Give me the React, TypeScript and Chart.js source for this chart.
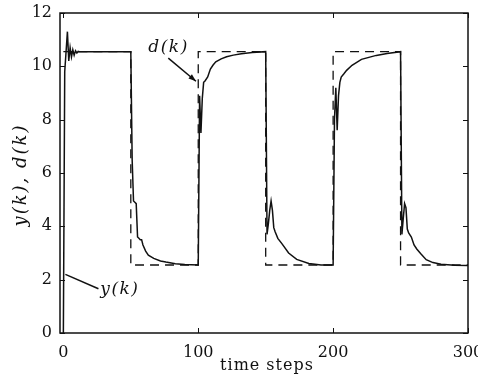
import React, { useEffect, useRef } from 'react';
import { Chart, registerables } from 'chart.js';

Chart.register(...registerables);

// axis ticks
const xTickValues = [0, 100, 200, 300];
const yTickValues = [0, 2, 4, 6, 8, 10, 12];

// desired output d(k): switch points and levels
const dK = [0, 50, 100, 150, 200, 250, 300];
const dV = [10.55, 2.55, 10.55, 2.55, 10.55, 2.55, 2.55];

// plant output y(k)
const yK = [
  0, 1, 3, 4, 5, 6, 7, 8, 9, 10, 11, 12, 50,
  51, 52, 53, 54, 55, 56, 57, 58, 59, 61, 63, 67, 72, 76, 83, 90, 100,
  101, 102, 103, 104, 105, 107, 109, 111, 113, 117, 121, 126, 132, 140, 150,
  151, 152, 153, 154, 155, 156, 157, 159, 162, 167, 173, 182, 191, 200,
  201, 202, 203, 204, 205, 206, 208, 210, 214, 221, 232, 240, 250,
  251, 252, 253, 254, 255, 256, 258, 260, 262, 265, 269, 274, 280, 290, 300,
];
const yV = [
  0, 9.8, 11.3, 10.2, 10.7, 10.35, 10.62, 10.42, 10.58, 10.5, 10.56, 10.55, 10.55,
  6.5, 4.95, 4.9, 4.85, 3.6, 3.55, 3.5, 3.5, 3.3, 3.07, 2.92, 2.8, 2.7, 2.66, 2.6, 2.57, 2.55,
  8.9, 7.5, 8.8, 9.4, 9.45, 9.6, 9.9, 10.05, 10.17, 10.28, 10.36, 10.42, 10.47, 10.52, 10.55,
  3.7, 4.1, 4.6, 4.95, 4.6, 3.95, 3.8, 3.55, 3.35, 3.0, 2.76, 2.61, 2.55, 2.55,
  8.0, 9.2, 7.6, 8.9, 9.4, 9.6, 9.72, 9.85, 10.04, 10.26, 10.41, 10.48, 10.55,
  3.7, 4.3, 4.85, 4.7, 3.9, 3.75, 3.6, 3.3, 3.15, 2.97, 2.75, 2.64, 2.58, 2.54, 2.53,
];

const xTitle = 'time steps';
const yTitle = 'y(k), d(k)';
const dLabel = 'd(k)';
const yLabel = 'y(k)';

export default function App() {
  const ref = useRef<HTMLCanvasElement>(null);

  useEffect(() => {
    document.body.style.margin = '0';
    const serif = '"DejaVu Serif", serif';
    const ink = '#111';

    const framePlugin = {
      id: 'frame',
      afterDraw(chart: any) {
        const ctx = chart.ctx as CanvasRenderingContext2D;
        const { left, right, top, bottom } = chart.chartArea;
        const xs = chart.scales.x;
        const ys = chart.scales.y;
        ctx.save();
        ctx.strokeStyle = ink;
        ctx.fillStyle = ink;
        ctx.lineWidth = 1.5;
        ctx.strokeRect(left, top, right - left, bottom - top);
        ctx.lineWidth = 1;
        const tl = 5;
        ctx.beginPath();
        xTickValues.forEach((v) => {
          const px = Math.round(xs.getPixelForValue(v)) + 0.5;
          ctx.moveTo(px, bottom);
          ctx.lineTo(px, bottom - tl);
          ctx.moveTo(px, top);
          ctx.lineTo(px, top + tl);
        });
        yTickValues.forEach((v) => {
          const py = Math.round(ys.getPixelForValue(v)) + 0.5;
          ctx.moveTo(left, py);
          ctx.lineTo(left + tl, py);
          ctx.moveTo(right, py);
          ctx.lineTo(right - tl, py);
        });
        ctx.stroke();

        // annotations
        (ctx as any).letterSpacing = '1.5px';
        ctx.font = `italic 17px ${serif}`;
        ctx.textBaseline = 'middle';
        ctx.textAlign = 'left';
        // d(k)
        const dTextX = xs.getPixelForValue(63);
        const dTextY = ys.getPixelForValue(10.72);
        ctx.fillText(dLabel, dTextX, dTextY);
        const a0x = xs.getPixelForValue(77.8);
        const a0y = ys.getPixelForValue(10.31);
        const a1x = xs.getPixelForValue(98.3);
        const a1y = ys.getPixelForValue(9.44);
        ctx.lineWidth = 1.5;
        ctx.beginPath();
        ctx.moveTo(a0x, a0y);
        ctx.lineTo(a1x, a1y);
        ctx.stroke();
        const ang = Math.atan2(a1y - a0y, a1x - a0x);
        const hl = 8;
        ctx.beginPath();
        ctx.moveTo(a1x, a1y);
        ctx.lineTo(a1x - hl * Math.cos(ang - 0.35), a1y - hl * Math.sin(ang - 0.35));
        ctx.lineTo(a1x - hl * Math.cos(ang + 0.35), a1y - hl * Math.sin(ang + 0.35));
        ctx.closePath();
        ctx.fill();
        // y(k)
        const b0x = xs.getPixelForValue(1.5);
        const b0y = ys.getPixelForValue(2.2);
        const b1x = xs.getPixelForValue(26);
        const b1y = ys.getPixelForValue(1.66);
        ctx.beginPath();
        ctx.moveTo(b0x, b0y);
        ctx.lineTo(b1x, b1y);
        ctx.stroke();
        ctx.fillText(yLabel, xs.getPixelForValue(27.4), ys.getPixelForValue(1.62));

        // axis titles
        (ctx as any).letterSpacing = '1px';
        ctx.font = `16px ${serif}`;
        ctx.textAlign = 'center';
        ctx.fillText(xTitle, (left + right) / 2 + 3, chart.height - 12);
        ctx.save();
        (ctx as any).letterSpacing = '2px';
        ctx.font = `italic 18px ${serif}`;
        ctx.translate(21, (top + bottom) / 2 + 2);
        ctx.rotate(-Math.PI / 2);
        ctx.fillText(yTitle, 0, 0);
        ctx.restore();
        ctx.restore();
      },
    };

    const chart = new Chart(ref.current as HTMLCanvasElement, {
      type: 'line',
      data: {
        datasets: [
          {
            label: 'd(k)',
            data: dK.map((k, i) => ({ x: k, y: dV[i] })),
            borderColor: ink,
            borderWidth: 1.3,
            borderDash: [9, 6],
            stepped: true,
            pointRadius: 0,
            fill: false,
          },
          {
            label: 'y(k)',
            data: yK.map((k, i) => ({ x: k, y: yV[i] })),
            borderColor: ink,
            borderWidth: 1.5,
            tension: 0,
            pointRadius: 0,
            fill: false,
          },
        ],
      },
      options: {
        animation: false,
        responsive: false,
        devicePixelRatio: 1,
        layout: { padding: { left: 0, right: 10, top: 13, bottom: 0 } },
        plugins: {
          legend: { display: false },
          tooltip: { enabled: false },
        },
        scales: {
          x: {
            type: 'linear',
            min: -2.5,
            max: 300,
            afterFit: (s: any) => {
              s.height = 45;
              s.paddingLeft = 0;
              s.paddingRight = 0;
            },
            afterBuildTicks: (s: any) => {
              s.ticks = xTickValues.map((v) => ({ value: v }));
            },
            grid: { display: false, drawTicks: false },
            border: { display: false },
            ticks: {
              color: ink,
              padding: 10,
              maxRotation: 0,
              font: { family: serif, size: 16 },
            },
          },
          y: {
            type: 'linear',
            min: 0,
            max: 12,
            afterFit: (s: any) => {
              s.width = 60;
              s.paddingTop = 0;
              s.paddingBottom = 0;
            },
            afterBuildTicks: (s: any) => {
              s.ticks = yTickValues.map((v) => ({ value: v }));
            },
            grid: { display: false, drawTicks: false },
            border: { display: false },
            ticks: {
              color: ink,
              padding: 8,
              font: { family: serif, size: 16 },
            },
          },
        },
      },
      plugins: [framePlugin],
    });
    return () => chart.destroy();
  }, []);

  return <canvas ref={ref} width={478} height={378} style={{ display: 'block' }} />;
}
